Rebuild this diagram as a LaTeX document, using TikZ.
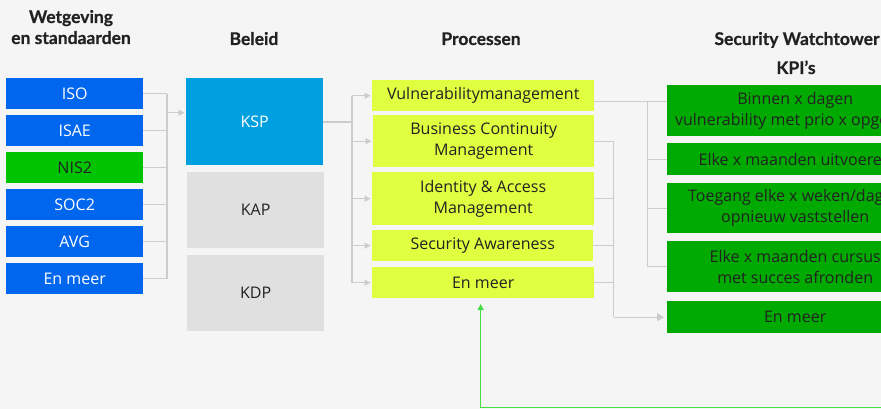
\documentclass[tikz,border=0pt]{standalone}
\usepackage{fontspec}
\setmainfont{Open Sans}
\newfontfamily\headfont[BoldFeatures={FakeBold=0.6}]{Lato}
\usetikzlibrary{arrows.meta}
\definecolor{bg}{HTML}{F5F5F5}
\definecolor{lawblue}{HTML}{0066EE}
\definecolor{nisgreen}{HTML}{00C400}
\definecolor{kspblue}{HTML}{009FE0}
\definecolor{greybox}{HTML}{E0E0E0}
\definecolor{procyellow}{HTML}{E0FF40}
\definecolor{kpigreen}{HTML}{00AA00}
\definecolor{conngrey}{HTML}{CCCCCC}
\definecolor{fbgreen}{HTML}{44DD44}
\definecolor{ink}{HTML}{222222}
\begin{document}
\begin{tikzpicture}[x=1pt,y=-1pt,
  box/.style={rectangle,inner sep=0pt,anchor=north west,align=center,
    font=\fontsize{16}{21}\selectfont,text=ink},
  lawbox/.style={box,fill=lawblue,text=white,minimum width=137pt,minimum height=31pt},
  polbox/.style={box,minimum width=137pt},
  procbox/.style={box,fill=procyellow},
  kpibox/.style={box,fill=kpigreen,minimum width=256pt},
  head/.style={font=\headfont\bfseries\fontsize{17.5}{21}\selectfont,text=ink,align=center,inner sep=0pt,anchor=base},
  conn/.style={draw=conngrey,line width=1.3pt},
  arr/.style={conn,-{Triangle[length=6pt,width=6pt]},shorten >=1.5pt},
  fb/.style={draw=fbgreen,line width=1.3pt,-{Triangle[length=6pt,width=6pt]}}
]
\useasboundingbox (0,0) rectangle (881,409);
\fill[bg] (0,0) rectangle (881,409);
\clip (0,0) rectangle (881,409);

% headers
\node[head] (h1) at (71,44) {Wetgeving\\en standaarden};
\node[head] (h2) at (254,45) {Beleid};
\node[head] (h3) at (481,45) {Processen};
\node[head] (h4) at (797,45) {Security Watchtower};
\node[head] (h5) at (796,74) {KPI’s};

% law column
\node[lawbox] (iso) at (6,78) {ISO};
\node[lawbox] (isae) at (6,115) {ISAE};
\node[lawbox,fill=nisgreen,text=ink] (nis) at (6,152) {NIS2};
\node[lawbox] (soc) at (6,189) {SOC2};
\node[lawbox] (avg) at (6,226) {AVG};
\node[lawbox] (lmeer) at (6,263) {En meer};

% policy column
\node[polbox,fill=kspblue,text=white,minimum height=87pt] (ksp) at (186,78) {KSP};
\node[polbox,fill=greybox,minimum height=76pt] (kap) at (187,172) {KAP};
\node[polbox,fill=greybox,minimum height=76pt] (kdp) at (187,255) {KDP};

% process column
\node[procbox,minimum width=222pt,minimum height=31pt] (vm) at (372,80) {Vulnerabilitymanagement};
\node[procbox,minimum width=221pt,minimum height=52pt] (bcm) at (373,115) {Business Continuity\\Management};
\node[procbox,minimum width=222pt,minimum height=53pt] (iam) at (372,172) {Identity \& Access\\Management};
\node[procbox,minimum width=221pt,minimum height=31pt] (sa) at (372,230) {Security Awareness};
\node[procbox,minimum width=222pt,minimum height=31pt] (pmeer) at (372,267) {En meer};

% KPI column
\node[kpibox,minimum height=51pt] (k1) at (667,85) {Binnen x dagen\\vulnerability met prio x opgelost};
\node[kpibox,minimum height=32pt] (k2) at (667,143) {Elke x maanden uitvoeren};
\node[kpibox,minimum height=50pt] (k3) at (667,183) {Toegang elke x weken/dagen\\opnieuw vaststellen};
\node[kpibox,minimum height=51pt] (k4) at (667,241) {Elke x maanden cursus\\met succes afronden};
\node[kpibox,minimum height=32pt] (k5) at (667,301) {En meer};

% law -> KSP
\coordinate (lj) at (167,112.7);
\foreach \n in {iso,isae,nis,soc,avg,lmeer}
  \draw[conn] (\n.east) -- (\n.east -| lj);
\draw[conn] (iso.east -| lj) -- (lmeer.east -| lj);
\draw[arr] (lj) -- (lj -| ksp.west);

% KSP -> processes
\coordinate (mj) at (352,122);
\draw[conn] (ksp.east |- mj) -- (mj);
\draw[conn] (vm.west -| mj) -- (pmeer.west -| mj);
\foreach \n in {vm,bcm,iam,sa,pmeer}
  \draw[arr] (\n.west -| mj) -- (\n.west);

% vulnerability -> KPIs 1-4
\coordinate (ra) at (647.7,101.5);
\draw[conn] (vm.east |- ra) -- (k1.west |- ra);
\draw[conn] (ra) -- (ra |- k4.west);
\foreach \n in {k2,k3,k4}
  \draw[conn] (ra |- \n.west) -- (\n.west);

% other processes -> KPI en meer
\coordinate (rb) at (613.7,141);
\foreach \n in {bcm,iam,sa,pmeer}
  \draw[conn] (\n.east) -- (\n.east -| rb);
\draw[conn] (rb |- bcm.east) -- (rb |- k5.west);
\draw[conn,-{Triangle[length=7pt,width=8pt]},shorten >=3pt] (rb |- k5.west) -- (k5.west);

% feedback
\coordinate (fbs) at (881,407.5);
\coordinate (fbe) at (480.7,304);
\draw[fb] (fbs) -| (fbe);
\end{tikzpicture}
\end{document}
